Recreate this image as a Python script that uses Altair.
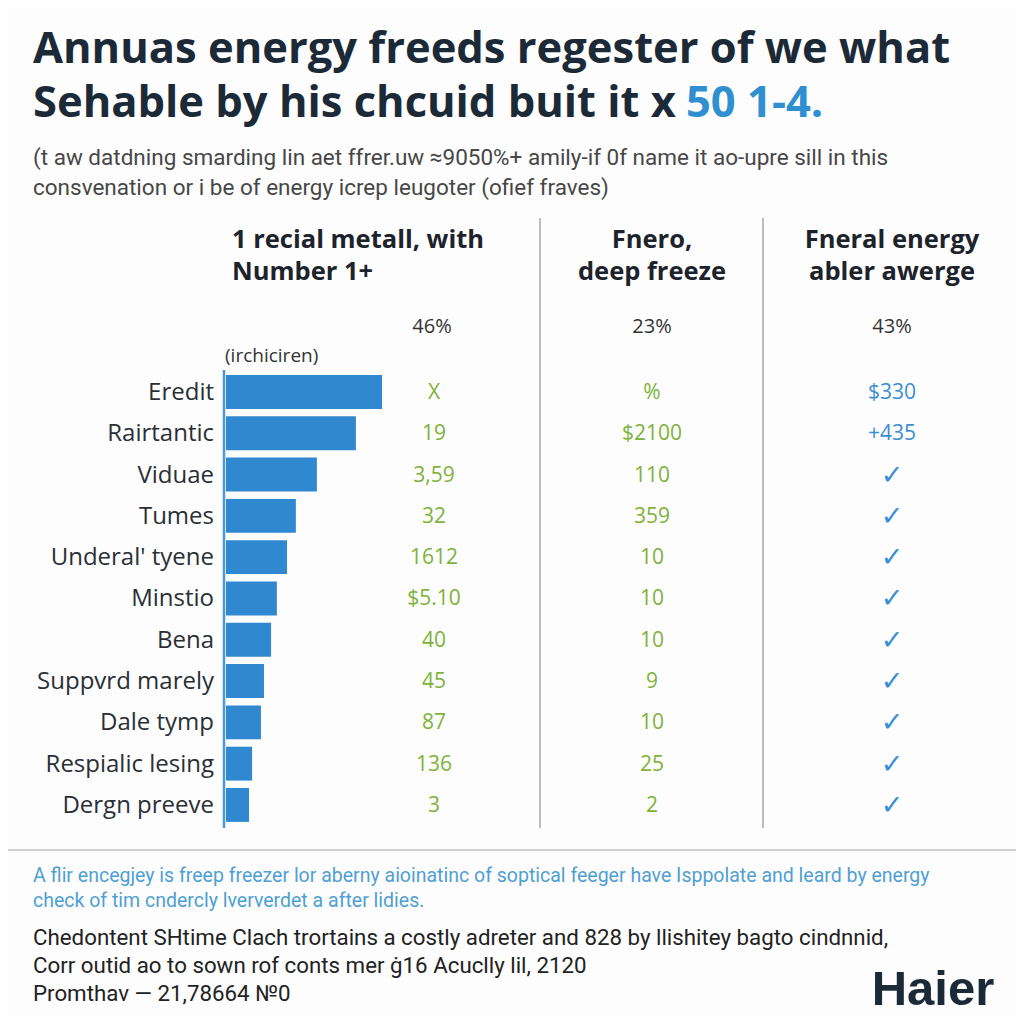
import altair as alt
import pandas as pd

# ---------------- data ----------------
TITLE_LINE1 = "Annuas energy freeds regester of we what"
TITLE_LINE2_A = "Sehable by his chcuid buit it x"
TITLE_LINE2_B = "50 1-4."
SUBTITLE = [
    "(t aw datdning smarding lin aet ffrer.uw \u22489050%+ amily-if 0f name it ao-upre sill in this",
    "consvenation or i be of energy icrep leugoter (ofief fraves)",
]
HEADER_1 = ["1 recial metall, with", "Number 1+"]
HEADER_2 = ["Fnero,", "deep freeze"]
HEADER_3 = ["Fneral energy", "abler awerge"]
PERCENTS = ["46%", "23%", "43%"]
UNIT_NOTE = "(irchiciren)"

ROWS = ["Eredit", "Rairtantic", "Viduae", "Tumes", "Underal' tyene", "Minstio",
        "Bena", "Suppvrd marely", "Dale tymp", "Respialic lesing", "Dergn preeve"]
BAR_VALUES = [46, 38.3, 26.8, 20.6, 18.0, 15.0, 13.3, 11.2, 10.3, 7.7, 6.8]
CHECK = "\u2713"
COL1 = ["X", "19", "3,59", "32", "1612", "$5.10", "40", "45", "87", "136", "3"]
COL2 = ["%", "$2100", "110", "359", "10", "10", "10", "9", "10", "25", "2"]
COL3 = ["$330", "+435"] + [CHECK] * 9
COL_INDEX = [0, 1, 2]

FOOT_BLUE = [
    "A flir encegjey is freep freezer lor aberny aioinatinc of soptical feeger have Isppolate and leard by energy",
    "check of tim cndercly lververdet a after lidies.",
]
FOOT_DARK = [
    "Chedontent SHtime Clach trortains a costly adreter and 828 by llishitey bagto cindnnid,",
    "Corr outid ao to sown rof conts mer \u012116 Acuclly lil, 2120",
    "Promthav \u2014 21,78664 \u21160",
]
LOGO = "Haier"

# ---------------- styling ----------------
NAVY = "#1c2a38"
DARK = "#2a2f36"
GREEN = "#7db33a"
BLUE_TXT = "#3a8fd2"
BAR_BLUE = "#2f88d0"
GRAY_LINE = "#bdbdbd"

bars_df = pd.DataFrame({"row": ROWS, "v": BAR_VALUES})
table_df = pd.DataFrame({
    "row": ROWS * 3,
    "ci": [COL_INDEX[0]] * len(ROWS) + [COL_INDEX[1]] * len(ROWS) + [COL_INDEX[2]] * len(ROWS),
    "val": COL1 + COL2 + COL3,
})
one = pd.DataFrame({"a": [0]})

Y = alt.Y("row:N", sort=ROWS, axis=None,
          scale=alt.Scale(range=[363.3, 817.6], paddingInner=0.18, paddingOuter=0.09))
X_COL = alt.X("ci:Q", axis=None, scale=alt.Scale(domain=COL_INDEX, range=[426, 644, 884]))
C_COL = alt.Color("ci:N", legend=None,
                  scale=alt.Scale(domain=COL_INDEX, range=[GREEN, GREEN, BLUE_TXT]))


def txt(lines, x, y, size, color, weight="normal", align="left", font="Open Sans", lh=None):
    kw = dict(text=lines, align=align, baseline="alphabetic", fontSize=size,
              color=color, fontWeight=weight, font=font)
    if lh is not None:
        kw["lineHeight"] = lh
    return alt.Chart(one).mark_text(**kw).encode(x=alt.value(x), y=alt.value(y))


def vline(x, y1, y2, color, w):
    return alt.Chart(one).mark_rule(color=color, strokeWidth=w).encode(
        x=alt.value(x), y=alt.value(y1), y2=alt.value(y2))


bars = alt.Chart(bars_df).mark_bar(color=BAR_BLUE).encode(
    x=alt.X("v:Q", axis=None, scale=alt.Scale(domain=[0, 46], range=[218, 374])),
    y=Y,
)

labels = alt.Chart(bars_df).mark_text(
    align="right", baseline="middle", fontSize=24, color=DARK, font="Open Sans", dy=1
).encode(x=alt.value(206), y=Y, text="row:N")

table = alt.Chart(table_df).transform_filter(
    alt.datum.val != CHECK
).mark_text(
    align="center", baseline="middle", fontSize=21, font="Open Sans", dy=1
).encode(x=X_COL, y=Y, text="val:N", color=C_COL)

checks = alt.Chart(table_df).transform_filter(
    alt.datum.val == CHECK
).mark_text(
    align="center", baseline="middle", fontSize=27, font="DejaVu Sans", fontWeight="bold", dy=1
).encode(x=X_COL, y=Y, text="val:N", color=C_COL)

axis_line = vline(216, 362, 820, "#4a98d6", 2.5)
div1 = vline(532, 210, 820, GRAY_LINE, 2)
div2 = vline(755, 210, 820, GRAY_LINE, 2)
sep = alt.Chart(one).mark_rule(color="#d0d0d0", strokeWidth=2).encode(
    x=alt.value(0), x2=alt.value(1008), y=alt.value(842))

layers = [
    txt(TITLE_LINE1, 25, 55, 43.5, NAVY, "bold"),
    txt(TITLE_LINE2_A, 25, 109, 43.5, NAVY, "bold"),
    txt(TITLE_LINE2_B, 678, 109, 43.5, "#2f8fd0", "bold"),
    txt(SUBTITLE, 25, 157, 22.5, "#474747", font="Roboto", lh=30),
    txt(HEADER_1, 224, 240, 25.5, "#1d232b", "bold", lh=32),
    txt(HEADER_2, 644, 240, 25.5, "#1d232b", "bold", "center", lh=32),
    txt(HEADER_3, 884, 240, 25.5, "#1d232b", "bold", "center", lh=32),
    txt(PERCENTS[0], 424, 325, 20, "#333333", align="center"),
    txt(PERCENTS[1], 644, 325, 20, "#333333", align="center"),
    txt(PERCENTS[2], 884, 325, 20, "#333333", align="center"),
    txt(UNIT_NOTE, 217, 354, 19, "#333333"),
    div1, div2, axis_line, bars, labels, table, checks, sep,
    txt(FOOT_BLUE, 25, 874, 19.5, "#4fa0d2", font="Roboto", lh=25),
    txt(FOOT_DARK, 25, 937, 22.3, "#222222", font="Roboto", lh=28),
    txt(LOGO, 925, 997, 49, NAVY, "bold", "center", font="Liberation Sans"),
]

chart = alt.layer(*layers).resolve_scale(x="independent", color="independent").properties(
    width=1008, height=1008, padding=0,
    autosize=alt.AutoSizeParams(type="none"),
    background="#fdfdfd",
).configure_view(stroke=None)

chart.save("out.html", embed_options={"renderer": "svg", "actions": False})
